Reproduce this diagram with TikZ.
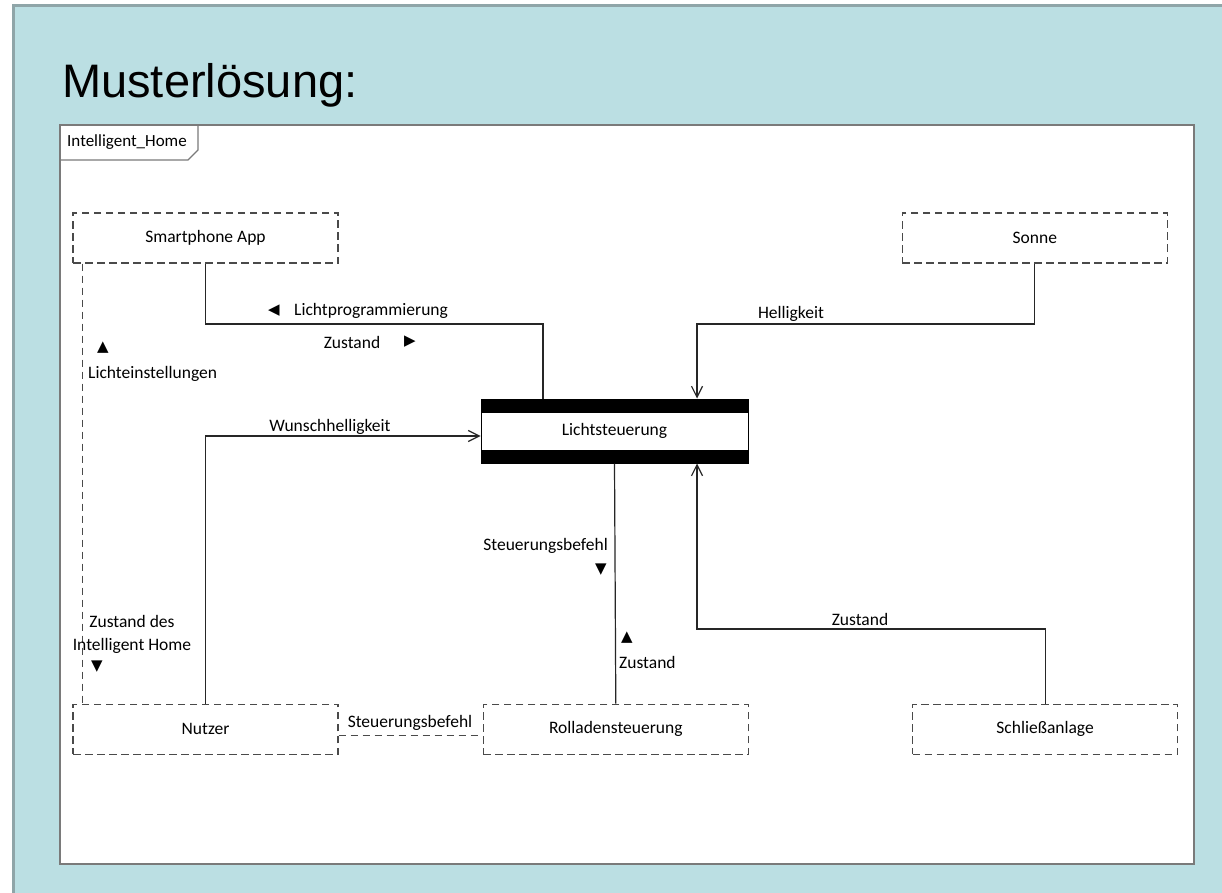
\documentclass[tikz,border=0pt]{standalone}
\usepackage{fontspec}
\setmainfont{Carlito}
\newfontfamily\titlefont{Liberation Sans}
\newfontfamily\symfont{DejaVu Sans}
\usetikzlibrary{positioning,calc,arrows.meta}

\definecolor{slidebg}{HTML}{BBDFE3}
\definecolor{slideedge}{HTML}{8FA5A8}
\definecolor{boxedge}{HTML}{4A4A4A}
\definecolor{frameedge}{HTML}{7A7A7A}

\begin{document}
\begin{tikzpicture}[x=1pt,y=-1pt,>={Straight Barb[length=11pt,width=11pt]},
	ext/.style={draw=boxedge,dash pattern=on 7.5pt off 4.5pt,line width=1.3pt,
		minimum width=265pt,minimum height=50pt,inner sep=0pt,
		font=\fontsize{17.5}{21}\selectfont},
	ctrl/.style={draw=black,fill=white,line width=1pt,minimum width=267pt,
		minimum height=64pt,inner sep=0pt,font=\fontsize{17.5}{21}\selectfont},
	lbl/.style={inner sep=0pt,font=\fontsize{17.5}{23}\selectfont},
	tri/.style={inner sep=0pt,font=\symfont\fontsize{15}{17}\selectfont},
	flow/.style={draw=black!85,line width=1.2pt},
	info/.style={draw=boxedge,dash pattern=on 7.5pt off 4.5pt,line width=1.3pt}]

\useasboundingbox (0,0) rectangle (1222,893);
\fill[white] (0,0) rectangle (1222,893);
\fill[slidebg] (13,6) rectangle (1222,893);
\draw[slideedge,line width=3pt] (13,893) -- (13,6) -- (1222,6);

\node[anchor=base west,inner sep=0pt,font=\titlefont\fontsize{47}{50}\selectfont]
	(title) at (62,98) {Musterlösung:};

% frame
\draw[frameedge,line width=2pt,fill=white] (60,125) rectangle (1194,864);
\draw[frameedge,line width=1.2pt] (60,160) -- (188,160) -- (198,150) -- (198,125);
\node[lbl,font=\fontsize{17}{20}\selectfont] (frame) at (127,142) {Intelligent\_Home};

% nodes
\node[ext] (app) at (205.5,238) {Smartphone App};
\node[ext] (sun) [right=563pt of app] {Sonne};
\node[ext] (user) [below=440pt of app] {Nutzer};
\node[ext] (roll) [right=144pt of user] {Rolladensteuerung};
\node[ext] (lock) [right=163pt of roll] {Schließanlage};
\node[ctrl] (ls) at (614.5,431) {Lichtsteuerung};
\fill (ls.north west) rectangle ([yshift=-14pt]ls.north east);
\fill (ls.south west) rectangle ([yshift=14pt]ls.south east);

\coordinate (b1) at (543,324);
\coordinate (b2) at (697,324);
\coordinate (b3) at (697,629);
\coordinate (b4) at (205.5,436);

% connectors
\draw[flow] (app.south) |- (b1) -- (b1 |- ls.north);
\draw[flow,->] (sun.south) |- (b2) -- (b2 |- ls.north);
\draw[flow,->] (lock.north) |- (b3) -- (b3 |- ls.south);
\draw[flow,->] (user.north) -- (b4) -- (b4 -| ls.west);
\draw[flow] (ls.south) -- (roll.north);
\draw[info] ([xshift=10pt]app.south west) -- ([xshift=10pt]user.north west);
\draw[info] ($(user.east)+(0,6.5)$) -- ($(roll.west)+(0,6.5)$);

% labels
\node[tri] (t1) at (274,311) {◀};
\node[lbl,anchor=west] (l1) at (294,311) {Lichtprogrammierung};
\node[lbl] (l2) at (352,342) {Zustand};
\node[tri] (t2) at (410,342) {▶};
\node[lbl] (l3) at (791,314) {Helligkeit};
\node[lbl] (l4) at (330,427) {Wunschhelligkeit};
\node[tri] (t3) at (103,348) {▲};
\node[lbl,anchor=west] (l5) at (88,374) {Lichteinstellungen};
\node[lbl,align=center] (l6) at (132,634) {Zustand des\\Intelligent Home};
\node[tri] (t4) at (97,667) {▼};
\node[lbl,anchor=east] (l7) at (608,546) {Steuerungsbefehl};
\node[tri] (t5) at (601,570) {▼};
\node[tri] (t6) at (627,638) {▲};
\node[lbl,anchor=west] (l8) at (619,662) {Zustand};
\node[lbl] (l9) at (860,619) {Zustand};
\node[lbl] (l10) at (410,723) {Steuerungsbefehl};

\end{tikzpicture}
\end{document}
